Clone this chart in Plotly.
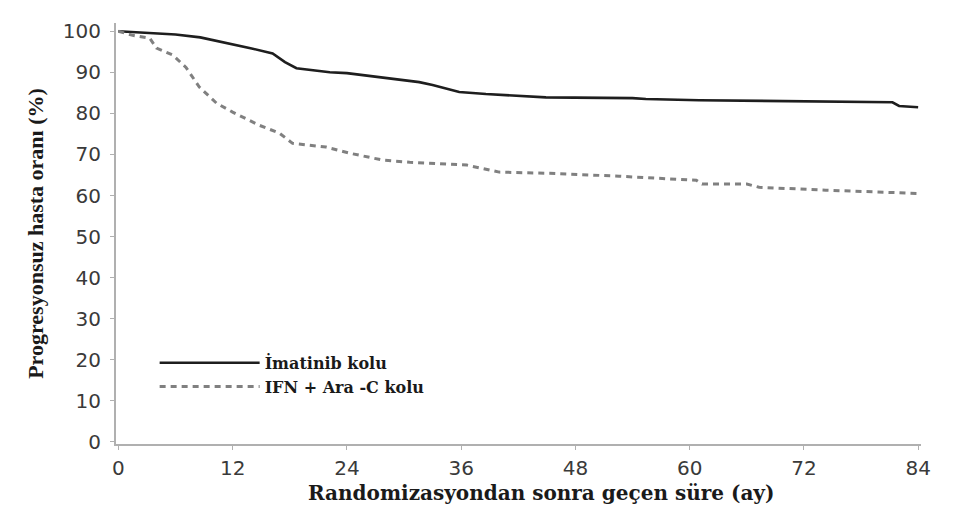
import plotly.graph_objects as go

# Imatinib arm (solid)
imatinib_months = [0, 3, 6, 8.6, 10, 12.7, 14, 16.2, 17.5, 18.7, 22.2, 24, 28.1, 31.6, 33, 35.8,
                   38.6, 44.9, 54, 55.4, 61, 72.2, 81.3, 82, 84]
imatinib_pct = [100, 99.6, 99.2, 98.5, 97.8, 96.6, 95.8, 94.6, 92.5, 91, 90, 89.8, 88.6, 87.6, 86.9, 85.2,
                84.7, 83.9, 83.7, 83.5, 83.2, 83.0, 82.7, 81.8, 81.5]

# IFN + Ara-C arm (dashed)
ifn_months = [0, 1.5, 3.3, 4, 5.7, 7.1, 8.5, 10.3, 12, 14.8, 16.9, 18.3, 21.8, 24.3, 27.8, 30.6,
              36.6, 40, 45.3, 52.6, 60.7, 61.3, 66, 67.3, 74.3, 79.9, 84]
ifn_pct = [100, 99, 98.3, 95.9, 94.2, 91.2, 86.4, 82.5, 80.3, 77.1, 75.2, 72.7, 71.8, 70.3, 68.6, 68.1,
           67.4, 65.7, 65.4, 64.7, 63.7, 62.8, 62.8, 62.0, 61.3, 60.8, 60.5]

x_ticks = [0, 12, 24, 36, 48, 60, 72, 84]
y_ticks = [0, 10, 20, 30, 40, 50, 60, 70, 80, 90, 100]

series_names = ["İmatinib kolu", "IFN + Ara -C kolu"]

fig = go.Figure()
fig.add_trace(go.Scatter(x=imatinib_months, y=imatinib_pct, mode="lines", name=series_names[0],
                         line=dict(color="#1e1e1e", width=2.6)))
fig.add_trace(go.Scatter(x=ifn_months, y=ifn_pct, mode="lines", name=series_names[1],
                         line=dict(color="#808080", width=3, dash="6px,5px")))

serif = "Liberation Serif"
fig.update_layout(
    width=972, height=516,
    margin=dict(l=108, r=59, t=15, b=80),
    paper_bgcolor="white", plot_bgcolor="white",
    showlegend=True,
    legend=dict(x=0.048, y=0.233, xanchor="left", yanchor="top", itemwidth=100,
                font=dict(family="DejaVu Serif", size=16, color="#1a1a1a", weight="bold"),
                tracegroupgap=0, bgcolor="rgba(0,0,0,0)"),
    xaxis=dict(range=[-0.25, 84.3], tickvals=x_ticks, ticktext=[str(v) for v in x_ticks],
               showgrid=False, zeroline=False, showline=True, linecolor="#b0b0b0", linewidth=2,
               ticks="outside", ticklen=4, tickcolor="#b0b0b0", tickwidth=1,
               ticklabelstandoff=1,
               tickfont=dict(family="DejaVu Sans", size=20, color="#3a3a3a")),
    yaxis=dict(range=[-0.5, 102], tickvals=y_ticks, ticktext=[str(v) for v in y_ticks],
               showgrid=False, zeroline=False, showline=True, linecolor="#b0b0b0", linewidth=2,
               ticks="outside", ticklen=4, tickcolor="#b0b0b0", tickwidth=1,
               ticklabelstandoff=5,
               tickfont=dict(family="DejaVu Sans", size=20, color="#3a3a3a"),
               title=dict(text="Progresyonsuz hasta oranı (%)",
                          font=dict(family=serif, size=22, color="#1a1a1a", weight="bold"),
                          standoff=13)),
    annotations=[dict(text="Randomizasyondan sonra geçen süre (ay)", xref="paper", yref="paper",
                      x=0.528, y=-0.083, xanchor="center", yanchor="top", showarrow=False,
                      font=dict(family="DejaVu Serif", size=20, color="#1a1a1a", weight="bold"))],
)

fig.write_html("out.html")
